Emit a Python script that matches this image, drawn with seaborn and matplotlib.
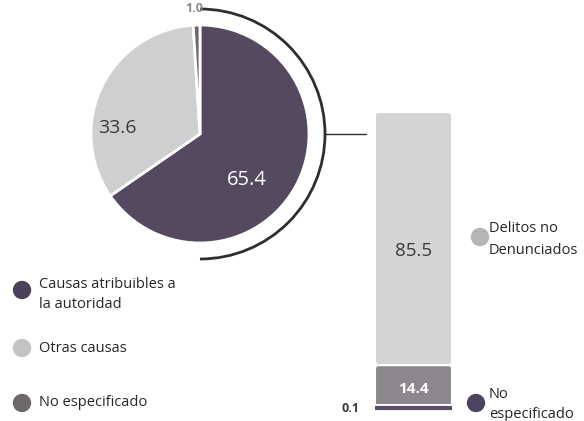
import numpy as np
import matplotlib
matplotlib.use("Agg")
import matplotlib.pyplot as plt
from matplotlib.patches import Arc, FancyBboxPatch
import matplotlib.patheffects as pe
import seaborn as sns

# Reasons for not reporting (pie) and reported / unreported split (bar)
pie_labels = ["Causas atribuibles a\nla autoridad", "Otras causas", "No especificado"]
pie_values = [65.4, 33.6, 1.0]
pie_colors = ["#54495e", "#cfcfd1", "#6d6a6f"]
pie_legend_colors = ["#4d405a", "#c3c3c3", "#6c686c"]

bar_labels = ["No especificado", "Denunciados", "Delitos no Denunciados"]
bar_values = [0.1, 14.4, 85.5]
bar_colors = ["#5a4e6a", "#8c878c", "#d4d4d6"]
bar_legend_labels = ["Delitos no\nDenunciados", "No\nespecificado"]
bar_legend_colors = ["#b5b5b5", "#4e4460"]

sns.set_theme(style="white")
plt.rcParams["font.family"] = ["Open Sans", "DejaVu Sans"]

W, H = 584, 421
fig = plt.figure(figsize=(W / 100, H / 100), dpi=100)
fig.patch.set_facecolor("white")

# main canvas in pixel units (y up)
ax = fig.add_axes([0, 0, 1, 1])
cx, cy, r = 200, H - 134, 109
ax.pie(pie_values, colors=pie_colors, startangle=90, counterclock=False,
       center=(cx, cy), radius=r,
       wedgeprops=dict(edgecolor="white", linewidth=2))
ax.set_xlim(0, W)
ax.set_ylim(0, H)
ax.set_aspect("equal")
ax.axis("off")

# bracket arc around the pie and connector to the bar
ax.add_patch(Arc((cx, cy), 250, 250, theta1=-90, theta2=90,
                 color="#2e2e2e", linewidth=2))
ax.plot([cx + 125, 366], [cy, cy], color="#2e2e2e", linewidth=1)

ax.text(247, H - 180, f"{pie_values[0]:.1f}", color="white", fontsize=14.5,
        ha="center", va="center")
ax.text(117, H - 128, f"{pie_values[1]:.1f}", color="#3a3a3a", fontsize=14,
        ha="center", va="center")
ax.text(194, H - 8, f"{pie_values[2]:.1f}", color="#8a8a8a", fontsize=9,
        ha="center", va="center", fontweight="bold")

# pie legend
txt = dict(fontsize=10.5, color="#262626", va="center")
leg_y = [H - 290, H - 348, H - 403]
ax.scatter([22] * 3, leg_y, s=175, c=pie_legend_colors, linewidths=0)
ax.text(39, H - 284, "Causas atribuibles a", **txt)
ax.text(39, H - 304, "la autoridad", **txt)
ax.text(39, leg_y[1], pie_labels[1], **txt)
ax.text(39, leg_y[2], pie_labels[2], **txt)

# bar legend
ax.scatter([480, 476], [H - 237, H - 403], s=175, c=bar_legend_colors, linewidths=0)
ax.text(489, H - 228, "Delitos no", **txt)
ax.text(489, H - 250, "Denunciados", **txt)
ax.text(489, H - 395, "No", **txt)
ax.text(489, H - 415, "especificado", **txt)

# stacked bar
bx = fig.add_axes([375 / W, 13 / H, 77 / W, 296 / H])
bottoms = np.concatenate([[0], np.cumsum(bar_values)[:-1]])
bars = bx.bar([0, 0, 0], bar_values, bottom=bottoms, width=1, color=bar_colors)
bx.set_xlim(-0.5, 0.5)
bx.set_ylim(0, 100)
bx.axis("off")

aspect = (100 / 296) / (1 / 77)
for i, rect in enumerate(bars.patches):
    x, y = rect.get_xy()
    w, h = rect.get_width(), rect.get_height()
    rect.set_visible(False)
    if i == 0:
        p = FancyBboxPatch((x, y), w, h, boxstyle="square,pad=0",
                           facecolor=bar_colors[i], edgecolor=bar_colors[i],
                           linewidth=3, zorder=5, clip_on=False)
        p.set_path_effects([pe.Stroke(linewidth=6.5, foreground="white"), pe.Normal()])
    else:
        p = FancyBboxPatch((x, y), w, h,
                           boxstyle="round,pad=0,rounding_size=0.05",
                           mutation_aspect=aspect,
                           facecolor=bar_colors[i], edgecolor="white",
                           linewidth=1.5, zorder=3, clip_on=False)
    bx.add_patch(p)

bx.text(0, bottoms[2] + bar_values[2] * 0.45, f"{bar_values[2]:.1f}",
        color="#3a3a3a", fontsize=13.5, ha="center", va="center")
bx.text(0, bottoms[1] + bar_values[1] * 0.45, f"{bar_values[1]:.1f}",
        color="white", fontsize=11, fontweight="bold", ha="center", va="center", zorder=6)
ax.text(351, H - 409, f"{bar_values[0]:.1f}", color="#3a3a3a", fontsize=9,
        fontweight="bold", ha="center", va="center")

fig.savefig("out.png", dpi=100, facecolor="white")
